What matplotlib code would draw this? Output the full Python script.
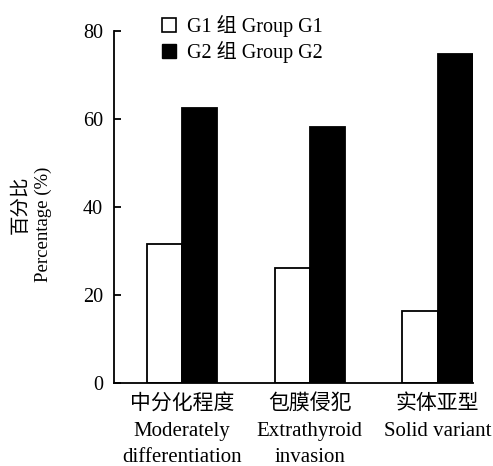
import numpy as np
import matplotlib
matplotlib.use('Agg')
import matplotlib.pyplot as plt
from matplotlib.patches import Patch

plt.rcParams['font.family'] = ['Liberation Serif', 'Noto Sans CJK SC']

categories = ['中分化程度\nModerately\ndifferentiation',
              '包膜侵犯\nExtrathyroid\ninvasion',
              '实体亚型\nSolid variant']
g1 = [31.6, 26.1, 16.4]
g2 = [62.5, 58.2, 74.8]
series_names = ['G1 组 Group G1', 'G2 组 Group G2']

fig = plt.figure(figsize=(4.93, 4.66), dpi=100)
ax = fig.add_axes([0.231, 0.178, 0.728, 0.755])

x = np.arange(len(categories))
w = 0.275
ax.bar(x - w / 2, g1, w, color='white', edgecolor='black', linewidth=1.3)
ax.bar(x + w / 2, g2, w, color='black', edgecolor='black', linewidth=1.3)

ax.set_xlim(-0.533, 2 + w)
ax.set_ylim(0, 80)
ax.set_yticks([0, 20, 40, 60, 80])
ax.set_xticks(x)
ax.set_xticklabels(categories, fontsize=15, linespacing=1.55)
ax.tick_params(axis='x', length=0, pad=8)
ax.tick_params(axis='y', direction='in', length=5, width=1.3, labelsize=14.5, pad=8)
for s in ['top', 'right']:
    ax.spines[s].set_visible(False)
for s in ['left', 'bottom']:
    ax.spines[s].set_linewidth(1.3)

# y label: two lines placed separately
fig.text(21 / 493, 1 - 205 / 466, '百分比', rotation=90, fontsize=14,
         ha='center', va='center')
fig.text(43 / 493, 1 - 224 / 466, 'Percentage (%)', rotation=90, fontsize=13.5,
         ha='center', va='center')

handles = [Patch(facecolor='white', edgecolor='black', linewidth=1.2),
           Patch(facecolor='black', edgecolor='black')]
fig.legend(handles, series_names, loc='upper left',
           bbox_to_anchor=(162 / 493, 1 - 15 / 466),
           frameon=False, fontsize=14.5, handlelength=0.7, handleheight=0.7,
           handletextpad=0.55, labelspacing=0.2, borderaxespad=0, borderpad=0)

fig.savefig('out.png', dpi=100)
